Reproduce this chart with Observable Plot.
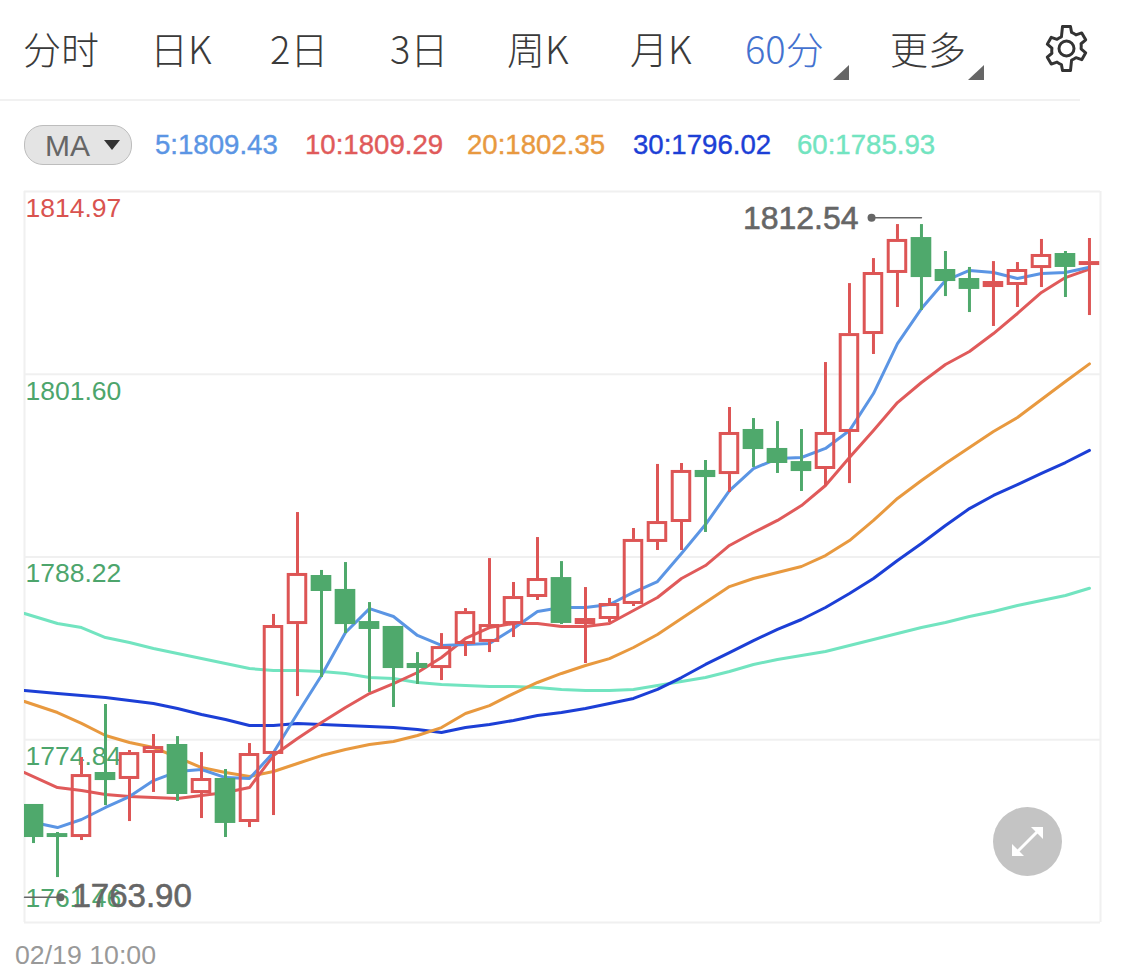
<!DOCTYPE html>
<html lang="zh">
<head>
<meta charset="utf-8">
<script src="https://cdn.jsdelivr.net/npm/d3@7"></script>
<script src="https://cdn.jsdelivr.net/npm/@observablehq/plot@0.6"></script>
<style>
html,body{margin:0;padding:0;background:#fff;}
body{width:1125px;height:980px;position:relative;overflow:hidden;font-family:"Liberation Sans",Arial,sans-serif;}
.tab{position:absolute;top:22px;font:300 38px/52px "Noto Sans CJK SC","Liberation Sans",sans-serif;color:#3a3a3a;white-space:nowrap;}
.tab.on{color:#4472cf;}
.corner{position:absolute;top:65px;width:0;height:0;border-left:16px solid transparent;border-bottom:15px solid #666;}
#rule{position:absolute;left:0;top:99px;width:1080px;height:2px;background:#f1f1f1;}
#pill{position:absolute;left:24px;top:125px;width:106px;height:38px;border-radius:19px;background:#e4e4e4;border:1px solid #bdbdbd;}
#pillText{position:absolute;left:45px;top:127px;font:30px/38px "Liberation Sans",sans-serif;color:#666;}
#pillTri{position:absolute;left:104px;top:140px;width:0;height:0;border-left:8px solid transparent;border-right:8px solid transparent;border-top:10px solid #333;}
.ma{position:absolute;top:127px;font:27.6px/36px "Liberation Sans",sans-serif;white-space:nowrap;-webkit-text-stroke:.4px currentColor;}
#chart{position:absolute;left:0;top:180px;}
#date{position:absolute;left:15px;top:939px;font:26.7px/32px "Liberation Sans",sans-serif;color:#999;}
#gear{position:absolute;left:1040px;top:22px;}
#expand{position:absolute;left:993px;top:807px;}
</style>
</head>
<body>
<div id="header"></div>
<div id="rule"></div>
<div id="pill"></div><div id="pillText">MA</div><div id="pillTri"></div>
<div id="legend"></div>
<svg id="gear" width="53" height="53" viewBox="0 0 24 24" fill="none" stroke="#333" stroke-width="1.35" stroke-linejoin="round">
  <circle cx="12" cy="12" r="3.4"/>
  <path d="M10.2 2h3.6l.5 2.7a7.6 7.6 0 0 1 2 1.15l2.6-.9 1.8 3.1-2.1 1.8a7.6 7.6 0 0 1 0 2.3l2.1 1.8-1.8 3.1-2.6-.9a7.6 7.6 0 0 1-2 1.15L13.800 22h-3.600l-.5-2.700a7.600 7.600 0 0 1-2-1.150l-2.600.9-1.800-3.100 2.100-1.800a7.600 7.600 0 0 1 0-2.300l-2.100-1.800 1.800-3.100 2.600.9a7.600 7.600 0 0 1 2-1.150z"/>
</svg>
<div id="chart"></div>
<svg id="expand" width="69" height="69" viewBox="0 0 69 69">
  <circle cx="34.500" cy="34.500" r="34.500" fill="#c4c4c4"/>
  <g stroke="#fff" stroke-width="3" fill="#fff">
    <line x1="24" y1="45" x2="45" y2="24"/>
    <path d="M38 20h12v12z" stroke="none"/>
    <path d="M19 37v12h12z" stroke="none"/>
  </g>
</svg>
<div id="date"></div>
<script>
const tabLabels = ["分时","日K","2日","3日","周K","月K","60分","更多"];
const maLabels = ["5:1809.43","10:1809.29","20:1802.35","30:1796.02","60:1785.93"];
const dateLabel = "02/19 10:00";
const yTicks = [1814.97,1801.60,1788.22,1774.84,1761.46];

const opens = [1770.10,1767.97,1767.68,1772.44,1771.93,1773.83,1774.49,1770.90,1772.00,1768.78,1773.76,1783.27,1786.86,1785.84,1783.49,1783.13,1780.42,1780.05,1781.81,1781.96,1783.27,1785.25,1786.71,1783.27,1783.64,1784.74,1789.28,1790.74,1794.55,1794.25,1797.55,1796.16,1795.20,1794.62,1797.33,1804.50,1808.97,1811.60,1809.26,1808.60,1807.94,1808.09,1809.33,1810.43,1809.55];
const highs = [1770.10,1768.05,1773.54,1777.42,1774.05,1775.22,1775.07,1773.90,1772.66,1774.56,1784.01,1791.47,1787.23,1787.81,1784.88,1783.13,1781.22,1782.61,1784.44,1788.10,1786.35,1789.64,1787.88,1785.98,1785.18,1790.30,1794.99,1795.06,1795.28,1799.16,1798.35,1798.13,1797.55,1802.45,1808.23,1810.06,1812.55,1812.55,1810.58,1809.41,1809.84,1809.77,1811.46,1810.58,1811.53];
const lows = [1767.24,1764.75,1767.46,1770.02,1768.85,1770.98,1770.32,1769.07,1767.68,1768.41,1769.29,1778.00,1779.39,1782.61,1778.30,1777.20,1778.88,1779.17,1780.93,1781.22,1782.32,1785.03,1783.27,1780.42,1783.42,1784.59,1788.69,1788.69,1790.01,1792.94,1794.77,1794.33,1793.01,1793.37,1793.59,1803.04,1806.48,1806.26,1807.28,1806.11,1805.09,1806.48,1807.94,1807.21,1805.89];
const closes = [1767.68,1767.68,1772.29,1771.85,1773.90,1774.34,1770.83,1772.00,1768.71,1773.83,1783.20,1787.01,1785.69,1783.27,1782.91,1780.05,1780.05,1781.66,1784.22,1783.27,1785.32,1786.64,1783.35,1783.71,1784.81,1789.50,1790.81,1794.55,1794.03,1797.33,1796.08,1795.06,1794.47,1797.33,1804.57,1809.04,1811.46,1808.67,1808.38,1807.80,1808.38,1809.26,1810.36,1809.41,1809.84];

const maIndex = [-0.375,1,2,3,4,5,6,7,8,9,10,11,12,13,14,15,16,17,18,19,20,21,22,23,24,25,26,27,28,29,30,31,32,33,34,35,36,37,38,39,40,41,42,43,44];
const ma5 = [1768.93,1768.41,1769.00,1769.88,1770.68,1771.85,1772.51,1772.66,1772.07,1772.00,1773.90,1776.76,1779.54,1782.69,1784.44,1783.86,1782.47,1781.74,1781.81,1781.88,1782.98,1784.22,1784.52,1784.52,1784.74,1785.62,1786.42,1788.47,1790.59,1793.08,1794.69,1795.42,1795.50,1796.16,1797.47,1800.18,1803.84,1806.40,1808.45,1809.19,1809.04,1808.60,1808.97,1809.04,1809.43];
const ma10 = [1772.44,1771.34,1771.12,1770.83,1770.68,1770.61,1770.54,1770.76,1770.98,1771.34,1773.68,1774.93,1776.10,1777.20,1778.22,1778.95,1779.76,1780.86,1782.25,1783.05,1783.35,1783.35,1783.13,1783.13,1783.35,1784.30,1785.25,1786.64,1787.59,1789.06,1790.01,1790.89,1791.98,1793.45,1795.50,1797.47,1799.52,1800.99,1802.31,1803.26,1804.57,1806.04,1807.58,1808.67,1809.29];
const ma20 = [1777.64,1776.83,1776.03,1775.15,1774.64,1774.27,1773.54,1772.80,1772.44,1772.15,1772.51,1773.10,1773.68,1774.12,1774.49,1774.71,1775.15,1775.73,1776.76,1777.34,1778.22,1779.03,1779.69,1780.27,1780.78,1781.59,1782.54,1783.71,1784.88,1786.05,1786.64,1787.08,1787.52,1788.32,1789.42,1790.89,1792.50,1793.81,1795.06,1796.23,1797.40,1798.43,1799.74,1801.06,1802.35];
const ma30 = [1778.44,1778.22,1778.08,1777.93,1777.71,1777.49,1777.12,1776.69,1776.32,1775.88,1775.88,1776.03,1775.95,1775.88,1775.81,1775.73,1775.59,1775.37,1775.73,1775.95,1776.25,1776.61,1776.83,1777.12,1777.49,1777.86,1778.52,1779.39,1780.35,1781.22,1782.10,1782.91,1783.64,1784.52,1785.54,1786.64,1787.96,1789.20,1790.52,1791.76,1792.72,1793.52,1794.33,1795.13,1796.02];
const ma60 = [1784.08,1783.35,1783.05,1782.32,1781.96,1781.52,1781.15,1780.78,1780.42,1780.05,1779.91,1779.91,1779.83,1779.69,1779.39,1779.32,1779.03,1778.88,1778.81,1778.73,1778.73,1778.66,1778.52,1778.44,1778.44,1778.52,1778.81,1779.10,1779.39,1779.83,1780.35,1780.71,1781.00,1781.30,1781.74,1782.18,1782.61,1783.05,1783.42,1783.86,1784.22,1784.66,1785.03,1785.40,1785.93];

const maColors = ["#5b95e4","#e05a5a","#e8993f","#1c3fd6","#72e4c0"];
const upColor = "#dd5555", downColor = "#4fa96c", tickGreen = "#4da56c", tickRed = "#d9534f";

const maxLabel = {value:1812.54, text:"1812.54", from:34.92, to:37};
const minLabel = {value:1763.90, text:"1763.90", from:-0.375, to:1.125};

// header chrome
const tabX = [23,150,270,390,507,630,745,890];
const hdr = document.getElementById("header");
tabLabels.forEach((t,i)=>{
  const d=document.createElement("div");
  d.className="tab"+(t==="60分"?" on":"");
  d.style.left=tabX[i]+"px"; d.textContent=t; hdr.appendChild(d);
});
[833,968].forEach(x=>{
  const d=document.createElement("div"); d.className="corner"; d.style.left=x+"px"; hdr.appendChild(d);
});
const legX=[155,305,467,633,797];
const leg=document.getElementById("legend");
maLabels.forEach((t,i)=>{
  const d=document.createElement("div"); d.className="ma";
  d.style.left=legX[i]+"px"; d.style.color=maColors[i]; d.textContent=t; leg.appendChild(d);
});
document.getElementById("date").textContent=dateLabel;

// tables
const candles = opens.map((o,i)=>({i,open:o,high:highs[i],low:lows[i],close:closes[i],
  top:Math.max(o,closes[i]),bottom:Math.min(o,closes[i]),up:closes[i]>=o}));
const ups = candles.filter(d=>d.up), downs = candles.filter(d=>!d.up);
const maLine = (vals,color)=>Plot.line(maIndex.map((x,k)=>({x,y:vals[k]})),
  {x:"x",y:"y",stroke:color,strokeWidth:3,curve:"linear",clip:"frame"});
const xDom=[-0.375,44.46];
const labelFont={fontFamily:'"Liberation Sans",sans-serif',fontSize:26.5,textAnchor:"start",lineAnchor:"middle"};

const plot = Plot.plot({
  width:1125,height:750,
  marginLeft:24,marginRight:25,marginTop:11,marginBottom:8,
  x:{axis:null,domain:xDom},
  y:{axis:null,domain:[yTicks[4],yTicks[0]]},
  style:{background:"transparent",overflow:"visible"},
  marks:[
    Plot.ruleY(yTicks,{stroke:"#f0f0f0",strokeWidth:2}),
    Plot.ruleX(xDom,{stroke:"#f0f0f0",strokeWidth:2}),
    Plot.text(yTicks.slice(0,1),{...labelFont,x:()=>xDom[0],y:d=>d,dx:1,dy:17,text:d=>d.toFixed(2),fill:tickRed}),
    Plot.text(yTicks.slice(1,4),{...labelFont,x:()=>xDom[0],y:d=>d,dx:1,dy:17,text:d=>d.toFixed(2),fill:tickGreen}),
    Plot.text(yTicks.slice(4),{...labelFont,x:()=>xDom[0],y:d=>d,dx:1,dy:-24,text:d=>d.toFixed(2),fill:tickGreen}),
    maLine(ma60,maColors[4]),
    maLine(ma30,maColors[3]),
    maLine(ma20,maColors[2]),
    maLine(ma10,maColors[1]),
    maLine(ma5,maColors[0]),
    // up candles: hollow
    Plot.ruleX(ups,{x:"i",y1:"top",y2:"high",stroke:upColor,strokeWidth:3,clip:"frame"}),
    Plot.ruleX(ups,{x:"i",y1:"bottom",y2:"low",stroke:upColor,strokeWidth:3,clip:"frame"}),
    Plot.rect(ups,{x1:d=>d.i-0.365,x2:d=>d.i+0.365,y1:"bottom",y2:"top",insetTop:1.5,insetBottom:1.5,fill:"none",stroke:upColor,strokeWidth:3,clip:"frame"}),
    // down candles: filled
    Plot.ruleX(downs,{x:"i",y1:"low",y2:"high",stroke:downColor,strokeWidth:3,clip:"frame"}),
    Plot.rect(downs,{x1:d=>d.i-0.43,x2:d=>d.i+0.43,y1:"bottom",y2:"top",fill:downColor,clip:"frame"}),
    // max annotation
    Plot.line([maxLabel.from,maxLabel.to],{x:d=>d,y:()=>maxLabel.value,dy:-7,stroke:"#666",strokeWidth:1.5}),
    Plot.dot([maxLabel.from],{x:d=>d,y:()=>maxLabel.value,dy:-7,r:4,fill:"#666"}),
    Plot.text([maxLabel.text],{x:()=>maxLabel.from,y:()=>maxLabel.value,dx:-13,dy:-6,text:d=>d,textAnchor:"end",lineAnchor:"middle",
      fontFamily:'"Liberation Sans",sans-serif',fontSize:32,fill:"#666",stroke:"#666",strokeWidth:0.6}),
    // min annotation
    Plot.line([minLabel.from,minLabel.to],{x:d=>d,y:()=>minLabel.value,dy:8,stroke:"#666",strokeWidth:1.5}),
    Plot.dot([minLabel.to],{x:d=>d,y:()=>minLabel.value,dy:8,r:4,fill:"#666"}),
    Plot.text([minLabel.text],{x:()=>minLabel.to,y:()=>minLabel.value,dx:12,dy:7,text:d=>d,textAnchor:"start",lineAnchor:"middle",
      fontFamily:'"Liberation Sans",sans-serif',fontSize:33,fill:"#666",stroke:"#666",strokeWidth:0.6})
  ]
});
document.getElementById("chart").appendChild(plot);
</script>
</body>
</html>
